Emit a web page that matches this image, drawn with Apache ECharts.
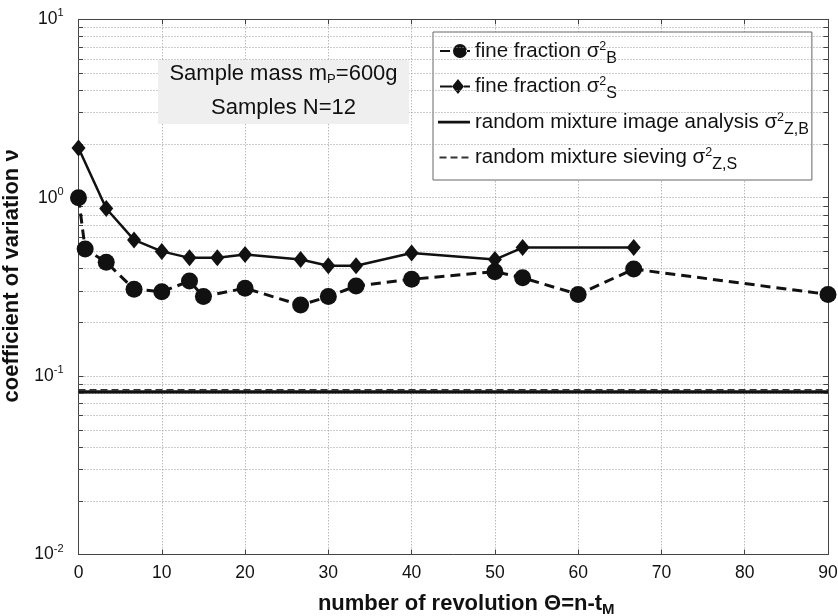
<!DOCTYPE html>
<html>
<head>
<meta charset="utf-8">
<script src="https://cdn.jsdelivr.net/npm/echarts@6/dist/echarts.min.js"></script>
<style>html,body{margin:0;padding:0;background:#fff}#c{width:838px;height:616px}</style>
</head>
<body>
<div id="c"></div>
<script>
// ---- data ----
const xCircle = [0, 0.8, 3.33, 6.67, 10, 13.33, 15, 20, 26.67, 30, 33.33, 40, 50, 53.33, 60, 66.67, 90];
const yCircle = [1.0, 0.515, 0.435, 0.307, 0.297, 0.341, 0.279, 0.311, 0.250, 0.279, 0.320, 0.349, 0.385, 0.356, 0.287, 0.398, 0.287];
const xDiamond = [0, 3.33, 6.67, 10, 13.33, 16.67, 20, 26.67, 30, 33.33, 40, 50, 53.33, 66.67];
const yDiamond = [1.90, 0.87, 0.58, 0.50, 0.46, 0.46, 0.48, 0.45, 0.415, 0.415, 0.49, 0.45, 0.525, 0.525];
const xRandom = [0, 90];
const yImageAnalysis = [0.0815, 0.0815];
const ySieving = [0.0835, 0.0835];
const yMinorTicks = [0.02,0.03,0.04,0.05,0.06,0.07,0.08,0.09,0.2,0.3,0.4,0.5,0.6,0.7,0.8,0.9,2,3,4,5,6,7,8,9];
const seriesNames = ['fine fraction σ²B', 'fine fraction σ²S', 'random mixture image analysis σ²Z,B', 'random mixture sieving σ²Z,S'];
const legendRich = [
  '{t|fine fraction σ}{sup|2}{sub|B}',
  '{t|fine fraction σ}{sup|2}{sub|S}',
  '{t|random mixture image analysis σ}{sup|2}{sub|Z,B}',
  '{t|random mixture sieving σ}{sup|2}{sub|Z,S}'
];

const FONT = '"Liberation Sans", Arial, Helvetica, sans-serif';
const zip = (xs, ys) => xs.map((x, i) => [x, ys[i]]);

const chart = echarts.init(document.getElementById('c'), null, {renderer: 'canvas'});
const gridStyle = {color: '#9a9a9a', width: 1, type: [1, 2]};

const minorGrid = yMinorTicks.map(v => ({yAxis: v}));
const minorTicksL = yMinorTicks.map(v => [{coord: [0, v]}, {coord: [0.55, v]}]);
const minorTicksR = yMinorTicks.map(v => [{coord: [89.45, v]}, {coord: [90, v]}]);

// legend icons (shape only)
const ICON_SOLID = 'path://M0,0h0.01v0.01h-0.01Z M0,6.8h32v2.6h-32Z M0,16h0.01v0.01h-0.01Z';
const ICON_DASH = 'path://M0,0h0.01v0.01h-0.01Z M0,7h7v2h-7Z M11,7h7v2h-7Z M22,7h7v2h-7Z M0,16h0.01v0.01h-0.01Z';
const ICON_CIRCLE = 'path://M0,0h0.01v0.01h-0.01Z M2,7h10v2h-10Z M15,8a7,7 0 1,0 14,0a7,7 0 1,0 -14,0Z M28,7h4v2h-4Z M0,16h0.01v0.01h-0.01Z';
const ICON_DIAMOND = 'path://M0,0h0.01v0.01h-0.01Z M2,7h12v2h-12Z M20,0.5L26,8L20,15.5L14,8Z M26,7h6v2h-6Z M0,16h0.01v0.01h-0.01Z';

const option = {
  animation: false,
  backgroundColor: '#fff',
  grid: {left: 78.5, top: 19.3, right: 10, bottom: 61.5, containLabel: false, outerBoundsMode: 'none'},
  xAxis: [{
    type: 'value', min: 0, max: 90, interval: 10, position: 'bottom',
    axisLine: {show: true, onZero: false, lineStyle: {color: '#444', width: 1}},
    axisTick: {show: true, inside: true, length: 5, lineStyle: {color: '#444'}},
    axisLabel: {color: '#111', fontSize: 17.5, fontFamily: FONT, margin: 10},
    splitLine: {show: true, lineStyle: gridStyle},
    name: '{n|number of revolution Θ=n-t}{s|M}',
    nameLocation: 'middle', nameGap: 36,
    nameTextStyle: {padding: [0, 0, 0, 26], rich: {
      n: {fontSize: 22, fontWeight: 'bold', fontFamily: FONT, color: '#111'},
      s: {fontSize: 15, fontWeight: 'bold', fontFamily: FONT, color: '#111', padding: [12, 0, 0, 0]}
    }}
  }, {
    type: 'value', min: 0, max: 90, interval: 10, position: 'top',
    axisLine: {show: true, onZero: false, lineStyle: {color: '#444', width: 1}},
    axisTick: {show: true, inside: true, length: 5, lineStyle: {color: '#444'}},
    axisLabel: {show: false}, splitLine: {show: false}
  }],
  yAxis: [{
    type: 'log', logBase: 10, min: 0.01, max: 10, position: 'left',
    axisLine: {show: true, onZero: false, lineStyle: {color: '#444', width: 1}},
    axisTick: {show: true, inside: true, length: 5, lineStyle: {color: '#444'}},
    axisLabel: {
      margin: 15, color: '#111',
      formatter: v => '{b|10}{e|' + Math.round(Math.log10(v)) + '}',
      rich: {
        b: {fontSize: 17.5, fontFamily: FONT, color: '#111'},
        e: {fontSize: 11, fontFamily: FONT, color: '#111', padding: [0, 0, 12, 0]}
      }
    },
    splitLine: {show: true, lineStyle: gridStyle},
    name: 'coefficient of variation ν',
    nameLocation: 'middle', nameGap: 50,
    nameTextStyle: {fontSize: 22, fontWeight: 'bold', fontFamily: FONT, color: '#111', padding: [0, 0, 0, 22]}
  }, {
    type: 'log', logBase: 10, min: 0.01, max: 10, position: 'right',
    axisLine: {show: true, onZero: false, lineStyle: {color: '#444', width: 1}},
    axisTick: {show: true, inside: true, length: 5, lineStyle: {color: '#444'}},
    axisLabel: {show: false}, splitLine: {show: false}
  }],
  legend: {
    data: [
      {name: seriesNames[0], icon: ICON_CIRCLE},
      {name: seriesNames[1], icon: ICON_DIAMOND},
      {name: seriesNames[2], icon: ICON_SOLID},
      {name: seriesNames[3], icon: ICON_DASH}
    ],
    orient: 'vertical', left: 433, top: 32,
    backgroundColor: '#fff', borderColor: '#666', borderWidth: 1, borderRadius: 0,
    padding: [8, 3, 7, 5], itemGap: 9, itemWidth: 32, itemHeight: 16,
    formatter: name => legendRich[seriesNames.indexOf(name)],
    textStyle: {
      color: '#111', fontFamily: FONT,
      rich: {
        t: {fontSize: 20.5, fontFamily: FONT, color: '#111', lineHeight: 30},
        sup: {fontSize: 12.5, fontFamily: FONT, color: '#111', padding: [0, 0, 9, 0]},
        sub: {fontSize: 16, fontFamily: FONT, color: '#111', padding: [15, 0, 0, 0]}
      }
    }
  },
  graphic: [
    {type: 'rect', left: 158, top: 60, z: 50, shape: {width: 251, height: 64}, style: {fill: '#efefef'}},
    {type: 'text', x: 283.5, y: 74, z: 51, style: {
      text: '{a|Sample mass m}{s|P}{a|=600g}', align: 'center', verticalAlign: 'middle',
      rich: {
        a: {fontSize: 22, fontFamily: FONT, fill: '#111'},
        s: {fontSize: 13, fontFamily: FONT, fill: '#111', padding: [10, 0, 0, 0]}
      }}},
    {type: 'text', x: 283.5, y: 108, z: 51, style: {
      text: 'Samples N=12', align: 'center', verticalAlign: 'middle',
      fontSize: 22, fontFamily: FONT, fill: '#111'}}
  ],
  series: [
    {
      name: '_grid', type: 'line', data: [], silent: true, z: 1,
      markLine: {
        silent: true, symbol: 'none', label: {show: false}, animation: false,
        lineStyle: gridStyle,
        data: minorGrid
      }
    },
    {
      name: '_ticks', type: 'line', data: [], silent: true, z: 1,
      markLine: {
        silent: true, symbol: 'none', label: {show: false}, animation: false,
        lineStyle: {color: '#444', width: 1, type: 'solid'},
        data: minorTicksL.concat(minorTicksR)
      }
    },
    {
      name: seriesNames[2], type: 'line', data: zip(xRandom, yImageAnalysis),
      showSymbol: false, symbol: 'none', z: 3,
      lineStyle: {color: '#111', width: 3.5, type: 'solid'}, itemStyle: {color: '#111'}
    },
    {
      name: seriesNames[3], type: 'line', data: zip(xRandom, ySieving),
      showSymbol: false, symbol: 'none', z: 4,
      lineStyle: {color: '#333', width: 2, type: [7, 4]}, itemStyle: {color: '#333'}
    },
    {
      name: seriesNames[0], type: 'line', data: zip(xCircle, yCircle),
      symbol: 'circle', symbolSize: 17, z: 5,
      lineStyle: {color: '#111', width: 3, type: [10, 6]},
      itemStyle: {color: '#111', borderWidth: 0}
    },
    {
      name: seriesNames[1], type: 'line', data: zip(xDiamond, yDiamond),
      symbol: 'diamond', symbolSize: [14, 17], z: 6,
      lineStyle: {color: '#111', width: 2.5, type: 'solid'},
      itemStyle: {color: '#111', borderWidth: 0}
    }
  ]
};
chart.setOption(option);
</script>
</body>
</html>
